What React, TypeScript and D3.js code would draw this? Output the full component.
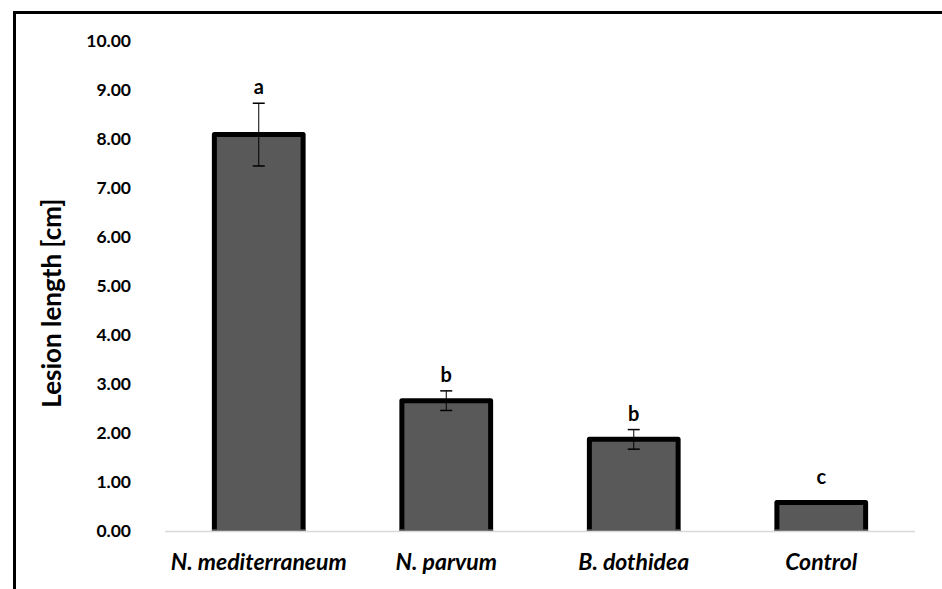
import { useEffect, useRef } from "react";
import * as d3 from "d3";

const categories = ["N. mediterraneum", "N. parvum", "B. dothidea", "Control"];
const means = [8.09, 2.66, 1.87, 0.58];
const errors = [0.64, 0.2, 0.2, 0];
const letters = ["a", "b", "b", "c"];
const yTicks = [0, 1, 2, 3, 4, 5, 6, 7, 8, 9, 10];

export default function App() {
    const svgRef = useRef<SVGSVGElement>(null);

    useEffect(() => {
        if (!svgRef.current) return;
        const width = 942;
        const height = 589;
        const font = "Lato, 'Open Sans', sans-serif";

        const svg = d3.select(svgRef.current);
        svg.selectAll("*").remove();
        svg.attr("width", width).attr("height", height);

        svg.append("rect")
            .attr("width", width)
            .attr("height", height)
            .attr("fill", "#fff");

        // frame (top and left edges only)
        svg.append("path")
            .attr("d", `M14.5,${height} L14.5,12.5 L${width},12.5`)
            .attr("fill", "none")
            .attr("stroke", "#000")
            .attr("stroke-width", 3);

        const x = d3
            .scaleBand<string>()
            .domain(categories)
            .range([165, 915])
            .paddingInner(0.5)
            .paddingOuter(0.25);
        const y = d3.scaleLinear().domain([0, 10]).range([531, 41]);

        // y tick labels
        svg.append("g")
            .selectAll("text")
            .data(yTicks)
            .enter()
            .append("text")
            .attr("x", 131)
            .attr("y", (d) => y(d))
            .attr("dy", "0.36em")
            .attr("text-anchor", "end")
            .style("font-family", font)
            .style("font-size", "17.5px")
            .style("font-weight", "bold")
            .text((d) => d3.format(".2f")(d));

        // y title
        svg.append("text")
            .attr("transform", `translate(61,${y(4.65)}) rotate(-90)`)
            .attr("text-anchor", "middle")
            .style("font-family", font)
            .style("font-size", "26px")
            .style("font-weight", "bold")
            .text("Lesion length [cm]");

        // bars
        const bars = svg
            .append("g")
            .selectAll("g")
            .data(categories)
            .enter()
            .append("g");

        bars.append("path")
            .attr("d", (d, i) => {
                const x0 = x(d)! + 2.5;
                const x1 = x(d)! + x.bandwidth() - 2.5;
                const y0 = y(0);
                const y1 = y(means[i]);
                return `M${x0},${y0} L${x0},${y1} L${x1},${y1} L${x1},${y0}`;
            })
            .attr("fill", "#595959")
            .attr("stroke", "#000")
            .attr("stroke-width", 5)
            .attr("stroke-linejoin", "round");

        // axis line
        svg.append("line")
            .attr("x1", 165)
            .attr("x2", 915)
            .attr("y1", y(0) + 0.5)
            .attr("y2", y(0) + 0.5)
            .attr("stroke", "#d9d9d9")
            .attr("stroke-width", 1.5);
        bars.append("line")
            .attr("x1", (d) => x(d)!)
            .attr("x2", (d) => x(d)! + x.bandwidth())
            .attr("y1", y(0) - 1)
            .attr("y2", y(0) - 1)
            .attr("stroke", "#595959")
            .attr("stroke-width", 1.5);

        // error bars
        const err = bars.filter((d, i) => errors[i] > 0);
        const cx = (d: string) => x(d)! + x.bandwidth() / 2;
        const idx = (d: string) => categories.indexOf(d);
        err.append("line")
            .attr("x1", cx)
            .attr("x2", cx)
            .attr("y1", (d) => y(means[idx(d)] + errors[idx(d)]))
            .attr("y2", (d) => y(means[idx(d)] - errors[idx(d)]))
            .attr("stroke", "#000")
            .attr("stroke-width", 1);
        [1, -1].forEach((s) => {
            err.append("line")
                .attr("x1", (d) => cx(d) - 6)
                .attr("x2", (d) => cx(d) + 6)
                .attr("y1", (d) => y(means[idx(d)] + s * errors[idx(d)]))
                .attr("y2", (d) => y(means[idx(d)] + s * errors[idx(d)]))
                .attr("stroke", "#000")
                .attr("stroke-width", 1.5);
        });

        // significance letters
        bars.append("text")
            .attr("x", cx)
            .attr("y", (d, i) => y(means[i] + errors[i]) - (errors[i] > 0 ? 9 : 19))
            .attr("text-anchor", "middle")
            .style("font-family", font)
            .style("font-size", "20px")
            .style("font-weight", "bold")
            .text((d, i) => letters[i]);

        // category labels
        bars.append("text")
            .attr("x", cx)
            .attr("y", 570)
            .attr("text-anchor", "middle")
            .style("font-family", font)
            .style("font-size", "23px")
            .style("font-weight", "bold")
            .style("font-style", "italic")
            .text((d) => d);
    }, []);

    return (
        <div style={{ position: "absolute", left: 0, top: 0 }}>
            <svg ref={svgRef} style={{ display: "block" }}></svg>
        </div>
    );
}
